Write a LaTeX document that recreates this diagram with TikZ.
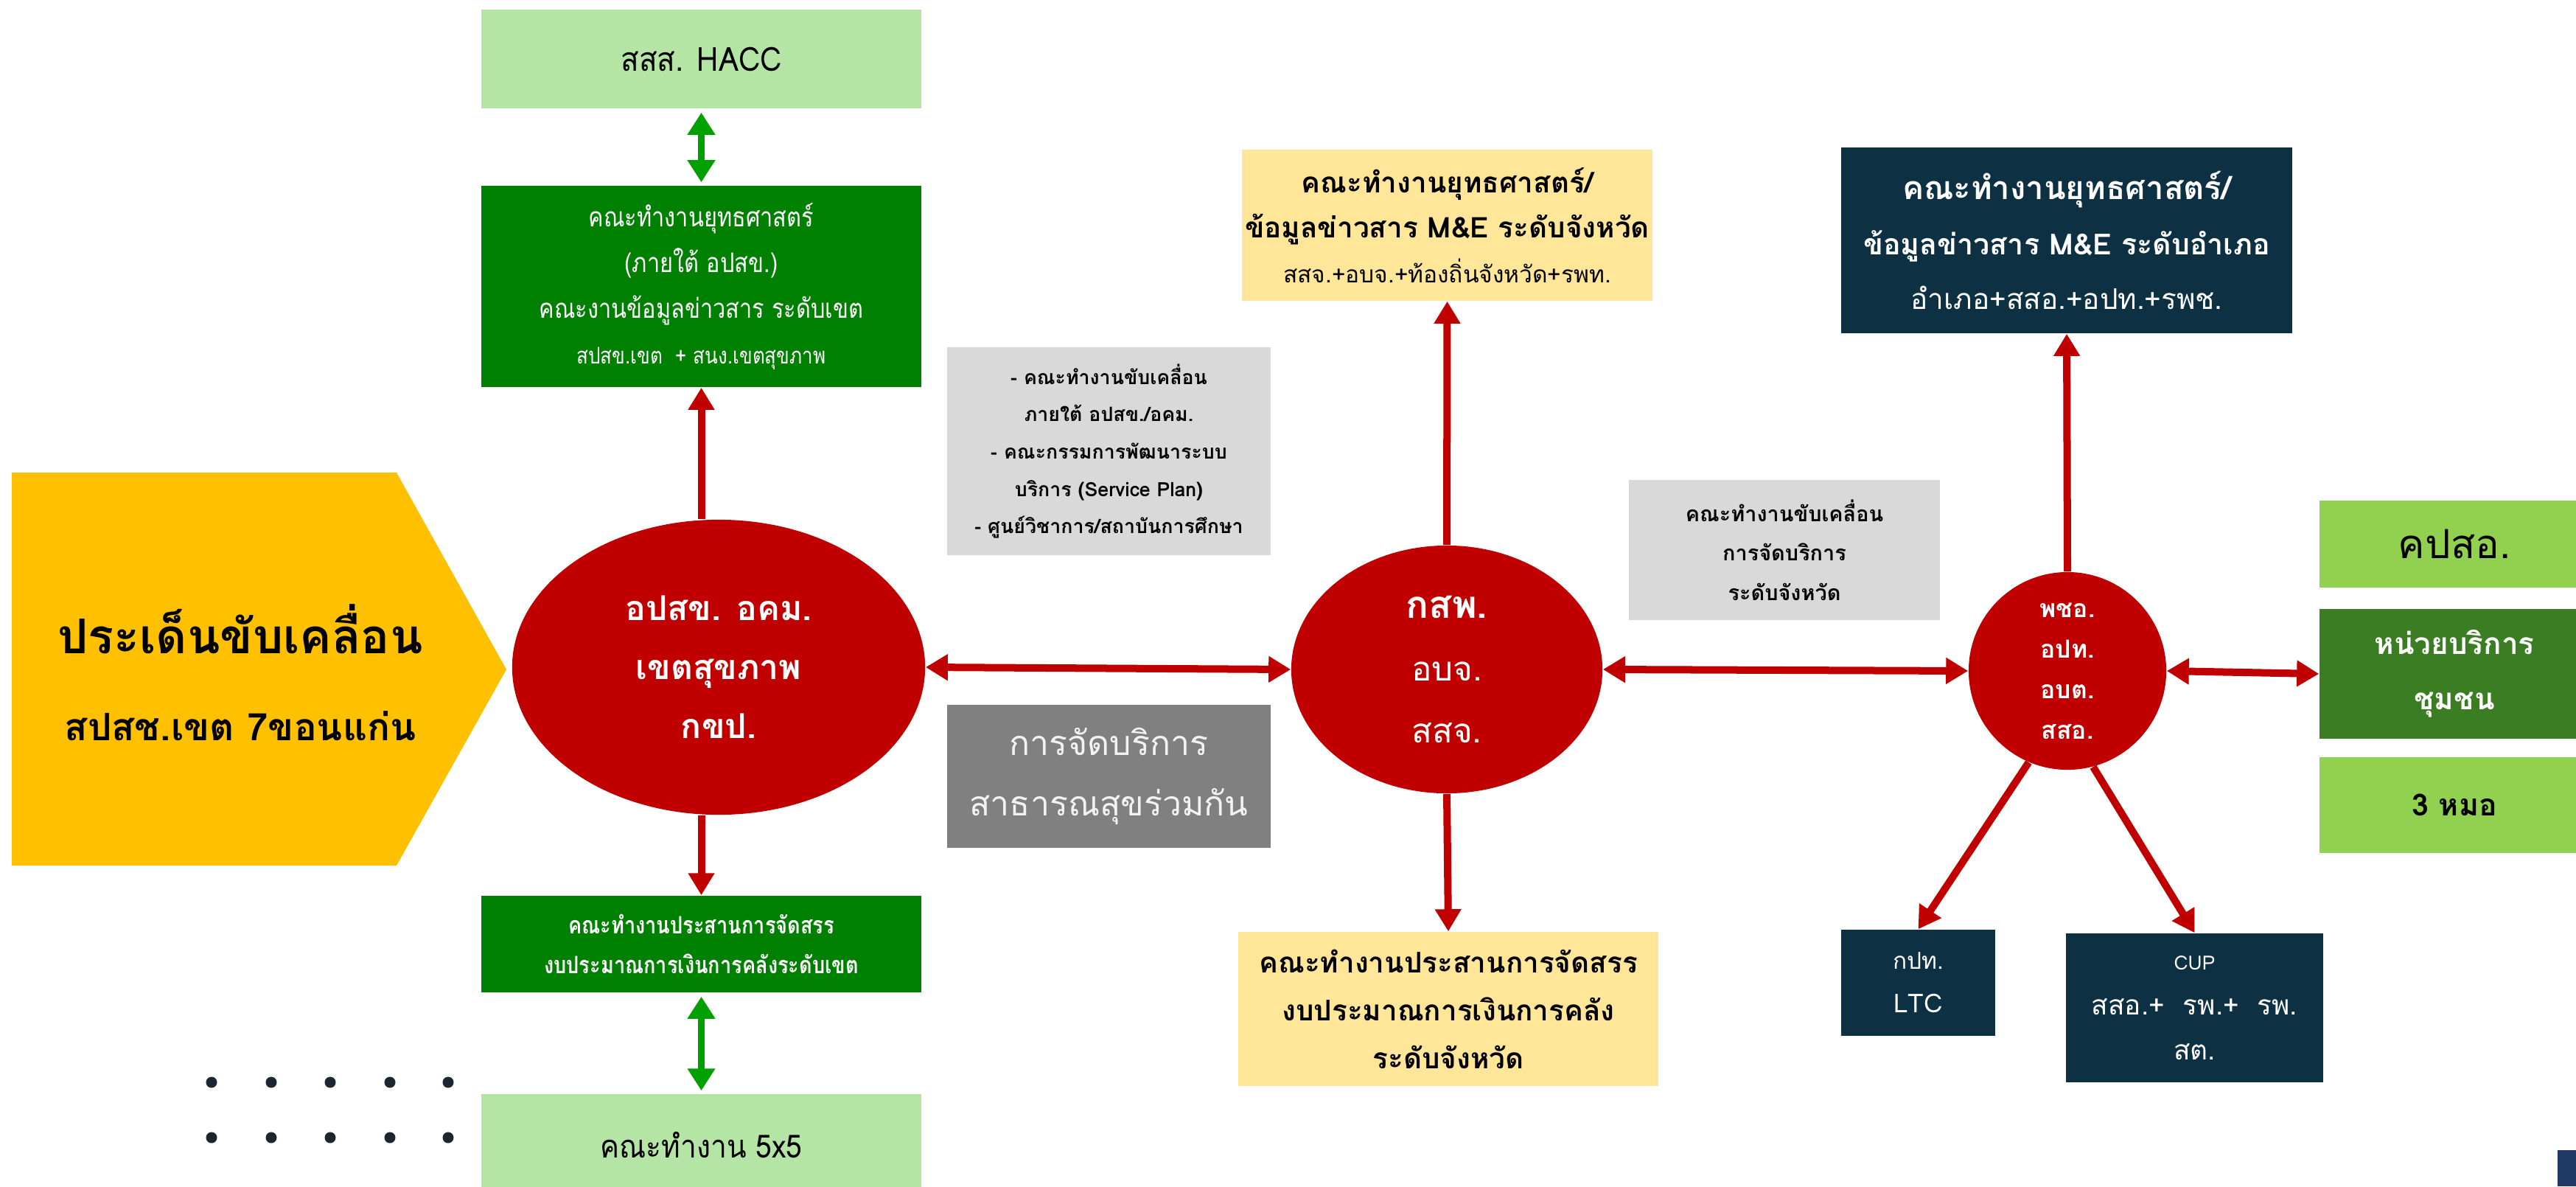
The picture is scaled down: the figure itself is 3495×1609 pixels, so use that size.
\documentclass[tikz,border=0pt]{standalone}
\usepackage{fontspec}
\setmainfont[Script=Thai]{Loma}
\newfontfamily\condA[Script=Thai,FakeStretch=0.84]{Loma}
\newfontfamily\condB[Script=Thai,FakeStretch=0.9]{Loma}
\usetikzlibrary{arrows.meta,shapes.geometric}
\definecolor{cRed}{HTML}{C00000}
\definecolor{cLG}{HTML}{B5E5A5}
\definecolor{cDG}{HTML}{008000}
\definecolor{cArrG}{HTML}{00A000}
\definecolor{cYel}{HTML}{FFC000}
\definecolor{cYL}{HTML}{FFE699}
\definecolor{cGL}{HTML}{D9D9D9}
\definecolor{cGD}{HTML}{808080}
\definecolor{cTxtL}{HTML}{F2F2F2}
\definecolor{cNavy}{HTML}{0D3042}
\definecolor{cLime}{HTML}{92D050}
\definecolor{cMG}{HTML}{3B7D23}
\definecolor{cDot}{HTML}{1B2631}
\definecolor{cBlue}{HTML}{203864}
\newcommand\fsz[2]{\fontsize{#1pt}{#2pt}\selectfont}
\begin{document}
\begin{tikzpicture}[x=0.01cm,y=-0.01cm,
  box/.style={rectangle, inner sep=0pt, align=center},
  oval/.style={ellipse, inner sep=0pt, align=center, fill=cRed, text=white},
  redln/.style={draw=cRed, line width=0.1cm},
  redarr/.style={redln, -{Triangle[length=0.3cm,width=0.34cm]}},
  redboth/.style={redln, {Triangle[length=0.3cm,width=0.34cm]}-{Triangle[length=0.3cm,width=0.34cm]}},
  grnboth/.style={draw=cArrG, line width=0.09cm, {Triangle[length=0.3cm,width=0.36cm]}-{Triangle[length=0.3cm,width=0.36cm]}, shorten <=0.05cm, shorten >=0.04cm}]
\useasboundingbox (0,0) rectangle (3495,1609);
\clip (0,0) rectangle (3495,1609);
\fill[white] (0,0) rectangle (3495,1609);

% left column
\node[box, fill=cLG, minimum width=5.97cm, minimum height=1.34cm, font=\condB\fsz{12.8}{15}] (hacc) at (951.5,80) {สสส. HACC};
\node[box, fill=cDG, text=white, minimum width=5.97cm, minimum height=2.73cm, font=\condA\fsz{10.4}{17.6}] (gtop) at (951.5,388.5)
  {คณะทำงานยุทธศาสตร์\\(ภายใต้ อปสข.)\\คณะงานข้อมูลข่าวสาร ระดับเขต\\{\fsz{8.8}{17.6}สปสข.เขต~~+ สนง.เขตสุขภาพ}};
\fill[cYel] (16,641) -- (538,641) -- (687,908) -- (538,1174) -- (16,1174) -- cycle;
\node[box, font=\bfseries\fsz{18.5}{33.6}] (issue) at (326,912) {ประเด็นขับเคลื่อน\\{\fsz{14.6}{33.6}สปสช.เขต 7ขอนแก่น}};
\node[oval, minimum width=5.6cm, minimum height=4.0cm, font=\bfseries\fsz{13.2}{22.8}] (e1) at (975,905) {อปสข. อคม.\\เขตสุขภาพ\\กขป.};
\node[box, fill=cDG, text=white, minimum width=5.97cm, minimum height=1.31cm, font=\condA\bfseries\fsz{9.2}{15.4}] (gbot) at (951.5,1280.5)
  {คณะทำงานประสานการจัดสรร\\งบประมาณการเงินการคลังระดับเขต};
\node[box, fill=cLG, minimum width=5.97cm, minimum height=1.38cm, font=\condB\fsz{12.3}{15}] (w5) at (951.5,1553) {คณะทำงาน 5x5};
\foreach \dx in {287,368,448,529,608} {
  \fill[cDot] (\dx,1468) circle (0.075cm);
  \fill[cDot] (\dx,1543) circle (0.075cm);
}

% middle column
\node[box, fill=cGL, minimum width=4.39cm, minimum height=2.82cm, font=\bfseries\fsz{7.6}{14.4}] (gl1) at (1504.5,612)
  {- คณะทำงานขับเคลื่อน\\ภายใต้ อปสข./อคม.\\- คณะกรรมการพัฒนาระบบ\\บริการ (Service Plan)\\- ศูนย์วิชาการ/สถาบันการศึกษา};
\node[box, fill=cGD, text=cTxtL, minimum width=4.39cm, minimum height=1.94cm, font=\fsz{13.2}{23.3}] (gd) at (1504.5,1053)
  {การจัดบริการ\\สาธารณสุขร่วมกัน};
\node[oval, minimum width=4.22cm, minimum height=3.36cm, font=\fsz{13}{24}] (e2) at (1963,908)
  {{\bfseries\fsz{14.6}{24}กสพ.}\\อบจ.\\สสจ.};
\node[box, fill=cYL, minimum width=5.57cm, minimum height=2.05cm, font=\bfseries\fsz{11}{17.4}] (ytop) at (1963.5,305.5)
  {คณะทำงานยุทธศาสตร์/\\ข้อมูลข่าวสาร M\&E ระดับจังหวัด\\{\mdseries\fsz{9}{17.4}สสจ.+อบจ.+ท้องถิ่นจังหวัด+รพท.}};
\node[box, fill=cYL, minimum width=5.7cm, minimum height=2.09cm, font=\bfseries\fsz{11}{18.5}] (ybot) at (1965,1368.5)
  {คณะทำงานประสานการจัดสรร\\งบประมาณการเงินการคลัง\\ระดับจังหวัด};

% right part
\node[box, fill=cGL, minimum width=4.22cm, minimum height=1.9cm, font=\bfseries\fsz{8.2}{15.2}] (gl2) at (2421,746)
  {คณะทำงานขับเคลื่อน\\การจัดบริการ\\ระดับจังหวัด};
\node[box, fill=cNavy, text=white, minimum width=6.12cm, minimum height=2.52cm, font=\bfseries\fsz{12.4}{21.3}] (ntop) at (2804,326)
  {คณะทำงานยุทธศาสตร์/\\{\fsz{11.2}{21.3}ข้อมูลข่าวสาร M\&E ระดับอำเภอ}\\{\mdseries\fsz{11}{21.3}อำเภอ+สสอ.+อปท.+รพช.}};
\node[oval, minimum width=2.68cm, minimum height=2.68cm, font=\bfseries\fsz{9.6}{15.6}] (e3) at (2805,910) {พชอ.\\อปท.\\อบต.\\สสอ.};
\node[box, fill=cLime, minimum width=3.66cm, minimum height=1.18cm, font=\fsz{15.5}{18}] (kpso) at (3330,738) {คปสอ.};
\node[box, fill=cMG, text=white, minimum width=3.66cm, minimum height=1.76cm, font=\bfseries\fsz{11.5}{21.3}] (hnw) at (3330,914) {หน่วยบริการ\\ชุมชน};
\node[box, fill=cLime, minimum width=3.66cm, minimum height=1.3cm, font=\bfseries\fsz{11.7}{14}] (mor) at (3330,1092) {3 หมอ};
\node[box, fill=cNavy, text=white, minimum width=2.09cm, minimum height=1.44cm, font=\fsz{10}{16.8}] (ltc) at (2602.5,1333) {{\fsz{9}{16.8}กปท.}\\LTC};
\node[box, fill=cNavy, text=white, minimum width=3.49cm, minimum height=2.02cm, font=\fsz{10.5}{17.4}] (cup) at (2977.5,1367)
  {{\fsz{7.5}{17.4}CUP}\\สสอ.+~~รพ.+~~รพ.\\สต.};
\fill[cBlue] (3470,1560) rectangle (3495,1609);

% connectors
\draw[grnboth] (hacc.south) -- (gtop.north);
\draw[redarr] (e1.north -| gtop.south) -- (gtop.south);
\draw[redarr] (e1.south -| gbot.north) -- (gbot.north);
\draw[grnboth] (gbot.south) -- (w5.north);
\draw[redboth] (e1.east) -- (e2.west);
\draw[redarr] (e2.north) -- (ytop.south);
\draw[redarr] (e2.south) -- (ybot.north);
\draw[redboth] (e2.east) -- (e3.west);
\draw[redarr] (e3.north) -- (ntop.south);
\draw[redboth] (e3.east) -- (hnw.west);
\draw[redarr] (e3.-113) -- (ltc.north);
\draw[redarr] (e3.-75) -- (cup.north);
\end{tikzpicture}
\end{document}
